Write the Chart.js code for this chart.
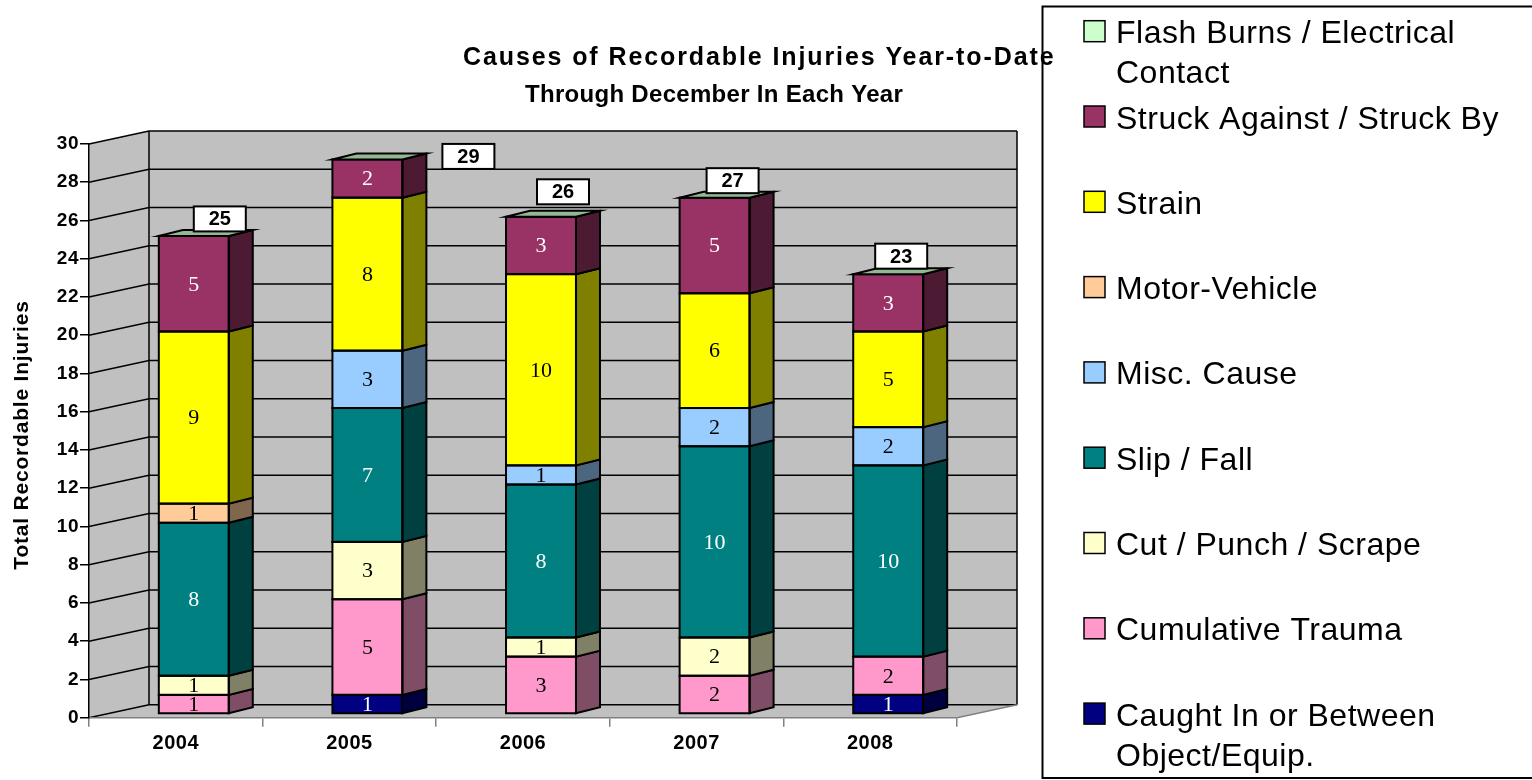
<!DOCTYPE html>
<html>
<head>
<meta charset="utf-8">
<script src="https://cdn.jsdelivr.net/npm/chart.js@4/dist/chart.umd.min.js"></script>
<style>
  html, body { margin: 0; padding: 0; background: #fff; overflow: hidden; }
  canvas { display: block; }
</style>
</head>
<body>
<canvas id="graficoLesiones" width="1532" height="780"></canvas>
<script>
// Datos (de abajo hacia arriba en cada columna)
const years = ['2004', '2005', '2006', '2007', '2008'];
const caughtIn = [0, 1, 0, 0, 1];
const cumulativeTrauma = [1, 5, 3, 2, 2];
const cutPunchScrape = [1, 3, 1, 2, 0];
const slipFall = [8, 7, 8, 10, 10];
const miscCause = [0, 3, 1, 2, 2];
const motorVehicle = [1, 0, 0, 0, 0];
const strain = [9, 8, 10, 6, 5];
const struckBy = [5, 2, 3, 5, 3];
const flashBurns = [0, 0, 0, 0, 0];
const yTicks = [0, 2, 4, 6, 8, 10, 12, 14, 16, 18, 20, 22, 24, 26, 28, 30];

const titleLines = ['Causes of Recordable Injuries Year-to-Date', 'Through December In Each Year'];
const yTitle = 'Total Recordable Injuries';

const SANS = '"Liberation Sans", Arial, sans-serif';
const SERIF = '"Liberation Serif", "Times New Roman", serif';

// Profundidad 3D
const WALL_DX = 60, WALL_DY = -13;   // pared del fondo
const BAR_DX = 18, BAR_DY = -3.7;    // cara frontal de las barras
const DEPTH_DX = 24, DEPTH_DY = -6;  // grosor de las barras

// posición de las etiquetas de total (relativa al centro/tope de cada barra)
const totalOffsets = [[26, -17], [101, -3], [22, -25], [18, -17], [13, -18]];

function shade(hex, f) {
  const n = parseInt(hex.slice(1), 16);
  const r = Math.round(((n >> 16) & 255) * f);
  const g = Math.round(((n >> 8) & 255) * f);
  const b = Math.round((n & 255) * f);
  return `rgb(${r},${g},${b})`;
}

const series = [
  { label: 'Caught In or Between\nObject/Equip.', data: caughtIn, color: '#000080', text: '#fff' },
  { label: 'Cumulative Trauma', data: cumulativeTrauma, color: '#FF99CC', text: '#000' },
  { label: 'Cut / Punch / Scrape', data: cutPunchScrape, color: '#FFFFCC', text: '#000' },
  { label: 'Slip / Fall', data: slipFall, color: '#008080', text: '#fff' },
  { label: 'Misc. Cause', data: miscCause, color: '#99CCFF', text: '#000' },
  { label: 'Motor-Vehicle', data: motorVehicle, color: '#FFCC99', text: '#000' },
  { label: 'Strain', data: strain, color: '#FFFF00', text: '#000' },
  { label: 'Struck Against / Struck By', data: struckBy, color: '#993366', text: '#fff' },
  { label: 'Flash Burns / Electrical\nContact', data: flashBurns, color: '#CCFFCC', text: '#000' },
];

const escena3d = {
  id: 'escena3d',
  beforeDraw(chart) {
    const ctx = chart.ctx;
    const a = chart.chartArea;
    const y = chart.scales.y;
    ctx.save();
    ctx.fillStyle = '#fff';
    ctx.fillRect(0, 0, chart.width, chart.height);

    const bx0 = a.left + WALL_DX, bx1 = a.right + WALL_DX;
    const by0 = a.top + WALL_DY, by1 = a.bottom + WALL_DY;

    // paredes y piso
    ctx.fillStyle = '#C0C0C0';
    ctx.fillRect(bx0, by0, bx1 - bx0, by1 - by0);
    ctx.beginPath();
    ctx.moveTo(a.left, a.top); ctx.lineTo(bx0, by0); ctx.lineTo(bx0, by1); ctx.lineTo(a.left, a.bottom);
    ctx.closePath(); ctx.fill();
    ctx.beginPath();
    ctx.moveTo(a.left, a.bottom); ctx.lineTo(a.right, a.bottom); ctx.lineTo(bx1, by1); ctx.lineTo(bx0, by1);
    ctx.closePath(); ctx.fill();

    // líneas de cuadrícula
    ctx.strokeStyle = '#000';
    ctx.lineWidth = 1.5;
    yTicks.forEach((v) => {
      const p = y.getPixelForValue(v);
      ctx.beginPath();
      ctx.moveTo(a.left, p);
      ctx.lineTo(bx0, p + WALL_DY);
      ctx.lineTo(bx1, p + WALL_DY);
      ctx.stroke();
    });
    ctx.beginPath();
    ctx.moveTo(bx0, by0); ctx.lineTo(bx0, by1);
    ctx.moveTo(bx1, by0); ctx.lineTo(bx1, by1);
    ctx.stroke();
    ctx.strokeStyle = '#808080';
    ctx.beginPath();
    ctx.moveTo(a.right, a.bottom); ctx.lineTo(bx1, by1);
    ctx.stroke();

    // leyenda
    ctx.fillStyle = '#fff';
    ctx.fillRect(1042.5, 6.5, 600, 771.5);
    ctx.strokeStyle = '#000';
    ctx.lineWidth = 2;
    ctx.strokeRect(1042.5, 6.5, 600, 771.5);
    ctx.font = '32px ' + SANS;
    ctx.letterSpacing = '0.5px';
    ctx.textAlign = 'left';
    ctx.textBaseline = 'alphabetic';
    chart.data.datasets.slice().reverse().forEach((ds, i) => {
      const top = 20.7 + i * 85.3;
      ctx.fillStyle = ds.backgroundColor;
      ctx.fillRect(1084, top, 21, 21);
      ctx.lineWidth = 1.5;
      ctx.strokeRect(1084, top, 21, 21);
      ctx.fillStyle = '#000';
      ds.label.split('\n').forEach((line, k) => {
        ctx.fillText(line, 1116, top + 22.5 + k * 40);
      });
    });

    // títulos
    ctx.fillStyle = '#000';
    ctx.font = 'bold 25px ' + SANS;
    ctx.letterSpacing = '1.9px';
    ctx.fillText(titleLines[0], 463, 65);
    ctx.font = 'bold 24px ' + SANS;
    ctx.letterSpacing = '0.3px';
    ctx.fillText(titleLines[1], 525, 102);

    ctx.translate(22, 435);
    ctx.rotate(-Math.PI / 2);
    ctx.font = 'bold 21px ' + SANS;
    ctx.letterSpacing = '0.8px';
    ctx.textAlign = 'center';
    ctx.textBaseline = 'middle';
    ctx.fillText(yTitle, 0, 0);
    ctx.restore();
    ctx.letterSpacing = '0.5px'; // para las etiquetas de los ejes
  },
  beforeDatasetsDraw(chart) {
    chart.ctx.save();
    chart.ctx.translate(BAR_DX, BAR_DY);
  },
  afterDatasetsDraw(chart) {
    const ctx = chart.ctx;
    const metas = chart.data.datasets.map((ds, i) => chart.getDatasetMeta(i));
    ctx.lineWidth = 2;
    ctx.strokeStyle = '#000';
    ctx.lineJoin = 'miter';

    // caras laterales y frontales
    metas.forEach((meta, di) => {
      const color = chart.data.datasets[di].backgroundColor;
      meta.data.forEach((el) => {
        const p = el.getProps(['x', 'y', 'base', 'width'], true);
        const top = Math.min(p.y, p.base), bottom = Math.max(p.y, p.base);
        if (bottom - top < 0.5) return;
        const right = p.x + p.width / 2, left = p.x - p.width / 2;
        ctx.fillStyle = shade(color, 0.5);
        ctx.beginPath();
        ctx.moveTo(right, bottom);
        ctx.lineTo(right, top);
        ctx.lineTo(right + DEPTH_DX, top + DEPTH_DY);
        ctx.lineTo(right + DEPTH_DX, bottom + DEPTH_DY);
        ctx.closePath();
        ctx.fill();
        ctx.stroke();
        ctx.strokeRect(left, top, p.width, bottom - top);
      });
    });

    // cara superior
    const last = metas[metas.length - 1];
    const topColor = shade(chart.data.datasets[metas.length - 1].backgroundColor, 0.72);
    last.data.forEach((el) => {
      const p = el.getProps(['x', 'y', 'width'], true);
      const left = p.x - p.width / 2, right = p.x + p.width / 2;
      ctx.fillStyle = topColor;
      ctx.beginPath();
      ctx.moveTo(left, p.y);
      ctx.lineTo(left + DEPTH_DX, p.y + DEPTH_DY);
      ctx.lineTo(right + DEPTH_DX, p.y + DEPTH_DY);
      ctx.lineTo(right, p.y);
      ctx.closePath();
      ctx.fill();
      ctx.stroke();
    });

    // valores dentro de cada segmento
    ctx.letterSpacing = '0px';
    ctx.font = '22px ' + SERIF;
    ctx.textAlign = 'center';
    ctx.textBaseline = 'middle';
    metas.forEach((meta, di) => {
      const ds = chart.data.datasets[di];
      meta.data.forEach((el, i) => {
        const v = ds.data[i];
        if (!v) return;
        const p = el.getProps(['x', 'y', 'base'], true);
        ctx.fillStyle = series[di].text;
        ctx.fillText(String(v), p.x, (p.y + p.base) / 2 + 1);
      });
    });

    // totales
    ctx.font = 'bold 20px ' + SANS;
    last.data.forEach((el, i) => {
      const p = el.getProps(['x', 'y'], true);
      const total = chart.data.datasets.reduce((s, ds) => s + ds.data[i], 0);
      const cx = p.x + totalOffsets[i][0], cy = p.y + totalOffsets[i][1];
      ctx.fillStyle = '#fff';
      ctx.fillRect(cx - 26, cy - 12.5, 52, 25);
      ctx.lineWidth = 2;
      ctx.strokeRect(cx - 26, cy - 12.5, 52, 25);
      ctx.fillStyle = '#000';
      ctx.fillText(String(total), cx, cy + 1);
    });

    ctx.restore();
    ctx.letterSpacing = '0.5px';
  },
};

new Chart(document.getElementById('graficoLesiones'), {
  type: 'bar',
  data: {
    labels: years,
    datasets: series.map((s) => ({
      label: s.label,
      data: s.data,
      backgroundColor: s.color,
      borderWidth: 0,
      barPercentage: 0.403,
      categoryPercentage: 1.0,
    })),
  },
  options: {
    responsive: false,
    animation: false,
    events: [],
    layout: { padding: { top: 144, right: 575, left: 0, bottom: 0 } },
    plugins: {
      legend: { display: false },
      title: { display: false },
      tooltip: { enabled: false },
    },
    scales: {
      x: {
        stacked: true,
        grid: { drawOnChartArea: false, color: '#808080', tickLength: 9, lineWidth: 1.5 },
        border: { color: '#808080', width: 1.5 },
        ticks: { color: '#000', padding: 5, font: { family: SANS, size: 20, weight: 'bold' } },
        afterFit: (s) => { s.height = 62.3; },
      },
      y: {
        stacked: true,
        min: 0,
        max: 30,
        afterBuildTicks: (s) => { s.ticks = yTicks.map((v) => ({ value: v })); },
        grid: { drawOnChartArea: false, color: '#000', tickLength: 9, lineWidth: 1.5 },
        border: { color: '#000', width: 1.5 },
        ticks: { color: '#000', padding: 1, font: { family: SANS, size: 19, weight: 'bold' } },
        afterFit: (s) => { s.width = 89; },
      },
    },
  },
  plugins: [escena3d],
});
</script>
</body>
</html>
